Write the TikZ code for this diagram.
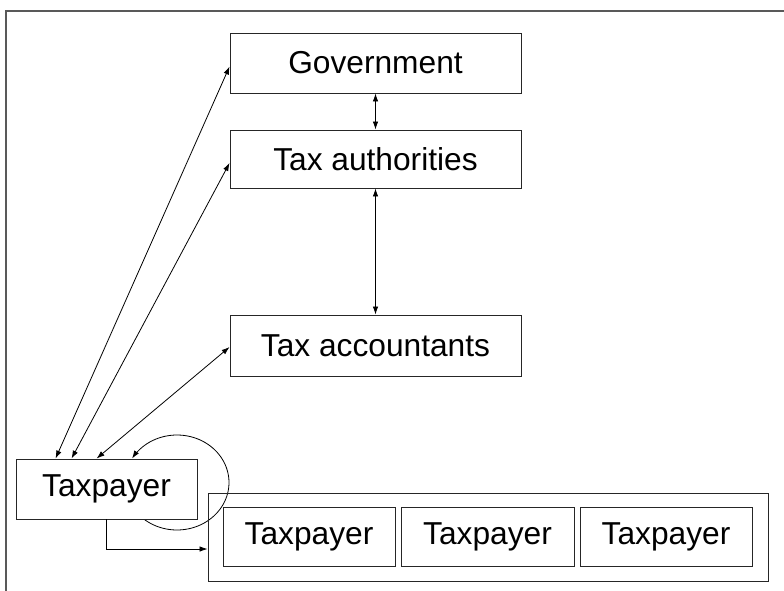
\documentclass[tikz,border=0pt]{standalone}
\usepackage{fontspec}
\setmainfont{Liberation Sans}
\usetikzlibrary{arrows.meta,calc}
\begin{document}
\begin{tikzpicture}[x=1pt,y=-1pt,
  box/.style={draw=black!85, line width=0.9pt, fill=white, inner sep=0pt,
    font=\fontsize{31.7}{38}\selectfont},
  conn/.style={line width=0.8pt, black},
  tip/.style={-{Latex[length=8pt,width=5.5pt]}},
  both/.style={{Latex[length=8pt,width=5.5pt]}-{Latex[length=8pt,width=5.5pt]}},
  frame/.style={draw=black!65, line width=1.4pt}]
\useasboundingbox (0,0) rectangle (784,591);
\draw[frame] (6,591) -- (6,11) -- (784,11);
% loop around taxpayer
\draw[conn, tip] plot[domain=130.4:-149.7, samples=80, smooth] ({177+52*cos(\x)}, {482.5+47.5*sin(\x)});
% nodes
\node[box, minimum width=291pt, minimum height=60pt] (gov) at (375.5,63) {Government};
\node[box, minimum width=291pt, minimum height=58pt] (auth) at (375.5,159) {Tax authorities};
\node[box, minimum width=291pt, minimum height=61pt] (acc) at (375.5,345.5) {Tax accountants};
\node[box, minimum width=181pt, minimum height=60pt] (tp) at (106.5,489) {Taxpayer};
\node[draw=black!85, line width=0.9pt, minimum width=560pt, minimum height=88pt, inner sep=0pt] (outer) at (488,537.5) {};
\node[box, minimum width=172pt, minimum height=59pt] (tp1) at (309,537) {Taxpayer};
\node[box, minimum width=173pt, minimum height=59pt] (tp2) at (487.5,537) {Taxpayer};
\node[box, minimum width=172pt, minimum height=59pt] (tp3) at (666,537) {Taxpayer};
% connectors
\draw[conn, both] (gov.south) -- (auth.north);
\draw[conn, both] (auth.south) -- (acc.north);
\draw[conn, both] ($(tp.north west)+(40,0)$) -- ($(gov.west)+(0,3.5)$);
\draw[conn, both] ($(tp.north west)+(56,0)$) -- ($(auth.west)+(0,4)$);
\draw[conn, both] ($(tp.north west)+(81,0)$) -- ($(acc.west)+(0,1.5)$);
\draw[conn, tip] (tp.south) |- ($(outer.west)+(0,11.5)$);
\end{tikzpicture}
\end{document}
